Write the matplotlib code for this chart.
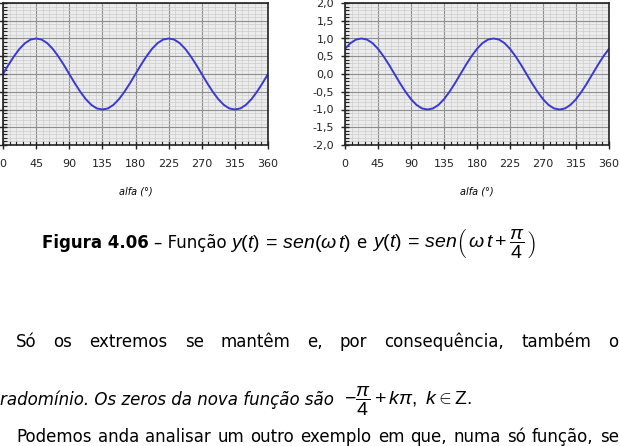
import matplotlib
matplotlib.use("Agg")
import matplotlib.pyplot as plt
from matplotlib.ticker import MultipleLocator, FuncFormatter

W, H = 620, 446

alfa = [0, 7.5, 15, 22.5, 30, 37.5, 45, 52.5, 60, 67.5, 75, 82.5,
        90, 97.5, 105, 112.5, 120, 127.5, 135, 142.5, 150, 157.5, 165, 172.5,
        180, 187.5, 195, 202.5, 210, 217.5, 225, 232.5, 240, 247.5, 255, 262.5,
        270, 277.5, 285, 292.5, 300, 307.5, 315, 322.5, 330, 337.5, 345, 352.5,
        360]

# y(t) = sen(wt)
y_left = [0.00, 0.26, 0.50, 0.71, 0.87, 0.97, 1.00, 0.97, 0.87, 0.71, 0.50, 0.26,
          0.00, -0.26, -0.50, -0.71, -0.87, -0.97, -1.00, -0.97, -0.87, -0.71, -0.50, -0.26,
          0.00, 0.26, 0.50, 0.71, 0.87, 0.97, 1.00, 0.97, 0.87, 0.71, 0.50, 0.26,
          0.00, -0.26, -0.50, -0.71, -0.87, -0.97, -1.00, -0.97, -0.87, -0.71, -0.50, -0.26,
          0.00]

# y(t) = sen(wt + pi/4)
y_right = [0.71, 0.87, 0.97, 1.00, 0.97, 0.87, 0.71, 0.50, 0.26, 0.00, -0.26, -0.50,
           -0.71, -0.87, -0.97, -1.00, -0.97, -0.87, -0.71, -0.50, -0.26, 0.00, 0.26, 0.50,
           0.71, 0.87, 0.97, 1.00, 0.97, 0.87, 0.71, 0.50, 0.26, 0.00, -0.26, -0.50,
           -0.71, -0.87, -0.97, -1.00, -0.97, -0.87, -0.71, -0.50, -0.26, 0.00, 0.26, 0.50,
           0.71]

x_ticks = [0, 45, 90, 135, 180, 225, 270, 315, 360]

plt.rcParams["mathtext.fontset"] = "custom"
plt.rcParams["mathtext.rm"] = "Liberation Sans"
plt.rcParams["mathtext.it"] = "Liberation Sans:italic"
plt.rcParams["mathtext.bf"] = "Liberation Sans:bold"

fig = plt.figure(figsize=(W / 100, H / 100), dpi=100)
fig.patch.set_facecolor("white")


def px_axes(x0, y0, x1, y1):
    return fig.add_axes([x0 / W, 1 - y1 / H, (x1 - x0) / W, (y1 - y0) / H])


def style(ax, ylabels):
    ax.set_facecolor("#ececec")
    ax.set_xlim(0, 360)
    ax.set_ylim(-2, 2)
    ax.set_xticks(x_ticks)
    ax.xaxis.set_minor_locator(MultipleLocator(9))
    ax.yaxis.set_major_locator(MultipleLocator(0.5))
    ax.yaxis.set_minor_locator(MultipleLocator(0.1))
    ax.grid(which="minor", color="#cdcdcd", lw=0.5)
    ax.grid(which="major", color="#8e8e8e", lw=0.8)
    ax.set_axisbelow(True)
    ax.tick_params(which="major", direction="inout", length=6, width=1,
                   labelsize=8, pad=7, colors="#222222")
    ax.tick_params(which="minor", direction="in", length=3, width=0.8, colors="#222222")
    ax.tick_params(axis="y", labelleft=ylabels, pad=5)
    ax.yaxis.set_major_formatter(FuncFormatter(
        lambda v, p: ("%.1f" % v).replace("-0.0", "0.0").replace(".", ",")))
    for s in ax.spines.values():
        s.set_linewidth(1.2)
        s.set_color("#222222")
    ax.set_xlabel("alfa (°)", fontsize=7, style="italic", labelpad=13)


ax1 = px_axes(3, 3, 268, 145)
style(ax1, False)
ax1.plot(alfa, y_left, color="#3a3ad0", lw=1.4)

ax2 = px_axes(345, 3, 609, 145)
style(ax2, True)
ax2.plot(alfa, y_right, color="#3a3ad0", lw=1.4)

fig.canvas.draw()
renderer = fig.canvas.get_renderer()


def put(x, y, s, **kw):
    t = fig.text(x / W, 1 - y / H, s, ha="left", va="baseline", **kw)
    return t.get_window_extent(renderer).width


def run(x, y, pieces):
    for s, kw, gap in pieces:
        x += put(x, y, s, **kw) + gap


def justify(x0, x1, y, line, **kw):
    words = line.split()
    tmp = [fig.text(0, 0, w, **kw) for w in words]
    widths = [t.get_window_extent(renderer).width for t in tmp]
    for t in tmp:
        t.remove()
    gap = (x1 - x0 - sum(widths)) / (len(words) - 1)
    x = x0
    for w, wd in zip(words, widths):
        put(x, y, w, **kw)
        x += wd + gap


# caption
body = dict(fontsize=12, family="DejaVu Sans")
math = dict(fontsize=14)
run(42, 248, [
    ("Figura 4.06", dict(fontsize=12, weight="bold"), 5),
    ("– Função", body, 4),
    (r"$y(t)\,=\,sen(\omega\,t)$", math, 5),
    ("e", body, 5),
    (r"$y(t)\,=\,sen\left(\,\omega\,t+\dfrac{\pi}{4}\,\right)$", math, 0),
])

# paragraph text
justify(16, 618, 347, "Só os extremos se mantêm e, por consequência, também o", **body)
run(0, 405, [
    ("radomínio. Os zeros da nova função são", dict(body, style="italic"), 10),
    (r"$-\dfrac{\pi}{4} + k\pi,\ k \in \mathrm{Z}.$", math, 0),
])
justify(16, 619, 442, "Podemos anda analisar um outro exemplo em que, numa só função, se", **body)

fig.savefig("out.png", dpi=100)
